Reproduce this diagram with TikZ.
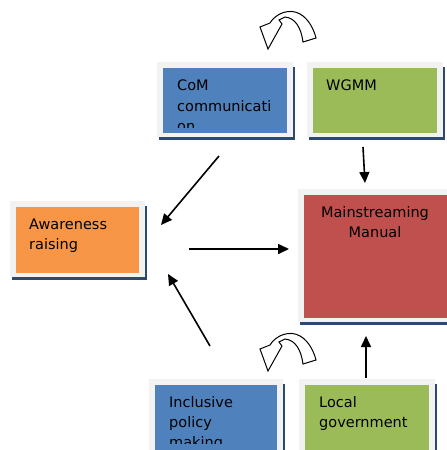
\documentclass[tikz,border=0pt]{standalone}
\usepackage{fontspec}
\setmainfont{DejaVu Sans}
\usetikzlibrary{arrows.meta}
\definecolor{boxblue}{HTML}{4F81BD}
\definecolor{boxgreen}{HTML}{9BBB59}
\definecolor{boxorange}{HTML}{F79646}
\definecolor{boxred}{HTML}{C0504D}
\definecolor{framegray}{HTML}{F2F2F2}
\definecolor{shadowc}{HTML}{2C4A6E}
\newcommand\diagbox[6]{%
  \fill[shadowc] (#2+2,#3+5) rectangle (#4+2,#5+3);
  \fill[framegray] (#2,#3) rectangle (#4,#5);
  \node[inner sep=0pt, outer sep=0pt, fill=#6, anchor=north west,
        minimum width=#4-#2-12, minimum height=#5-#3-10] (#1) at (#2+6,#3+6) {};
}
\begin{document}
\begin{tikzpicture}[x=1pt,y=-1pt,
  lbl/.style={inner sep=0pt, anchor=base west, font=\fontsize{14.5}{20}\selectfont, text=black},
  lblc/.style={inner sep=0pt, anchor=base, font=\fontsize{14.5}{20}\selectfont, text=black},
  arr/.style={line width=1.6pt, -{Triangle[length=11pt,width=10pt]}},
  curv/.style={draw=black, fill=white, line width=1pt, line join=miter}]
\useasboundingbox (0,0) rectangle (447,450);
\clip (0,0) rectangle (447,450);

% boxes
\diagbox{com}{157}{62}{293}{137}{boxblue}
\diagbox{wgmm}{307}{62}{443}{137}{boxgreen}
\diagbox{aware}{10}{201}{145}{277}{boxorange}
\diagbox{manual}{298}{189}{462}{322}{boxred}
\diagbox{incl}{149}{379}{283}{470}{boxblue}
\diagbox{local}{299}{379}{435}{470}{boxgreen}

% texts
\begin{scope}
  \clip (163,68) rectangle (287,127);
  \node[lbl] (comt1) at (177,90) {CoM};
  \node[lbl] (comt2) at (177,111) {communicati};
  \node[lbl] (comt3) at (177,131) {on};
\end{scope}
\node[lbl] (wgmmt) at (326,90) {WGMM};
\node[lbl] (awt1) at (29,229) {Awareness};
\node[lbl] (awt2) at (29,249) {raising};
\node[lblc] (mant1) at (375,217) {Mainstreaming};
\node[lblc] (mant2) at (375,237) {Manual};
\begin{scope}
  \clip (155,385) rectangle (278,443);
  \node[lbl] (inct1) at (169,407) {Inclusive};
  \node[lbl] (inct2) at (169,427) {policy};
  \node[lbl] (inct3) at (169,447) {making};
\end{scope}
\node[lbl] (loct1) at (319,407) {Local};
\node[lbl] (loct2) at (319,427) {government};

% straight arrows
\coordinate (a1s) at (219,156); \coordinate (a1e) at (161,225);
\coordinate (a2s) at (189,249); \coordinate (a2e) at (289,249);
\coordinate (a3s) at (210,346); \coordinate (a3e) at (168,274);
\coordinate (a4s) at (363,147); \coordinate (a4e) at (365,183);
\coordinate (a5s) at (366,378); \coordinate (a5e) at (366,336);
\draw[arr] (a1s) -- (a1e);
\draw[arr] (a2s) -- (a2e);
\draw[arr] (a3s) -- (a3e);
\draw[arr] (a4s) -- (a4e);
\draw[arr] (a5s) -- (a5e);

% curved block arrows
\foreach \dy in {0,322}{
  \draw[curv, shift={(0,\dy)}]
    (303,42) .. controls (301,27) and (295,18) .. (285,17)
    -- (279,20) -- (282,24) -- (268,49) -- (260,27) -- (270,23)
    .. controls (276,13) and (290,8) .. (300,14)
    .. controls (309,19) and (314,30) .. (316,38) -- cycle;
}
\end{tikzpicture}
\end{document}
